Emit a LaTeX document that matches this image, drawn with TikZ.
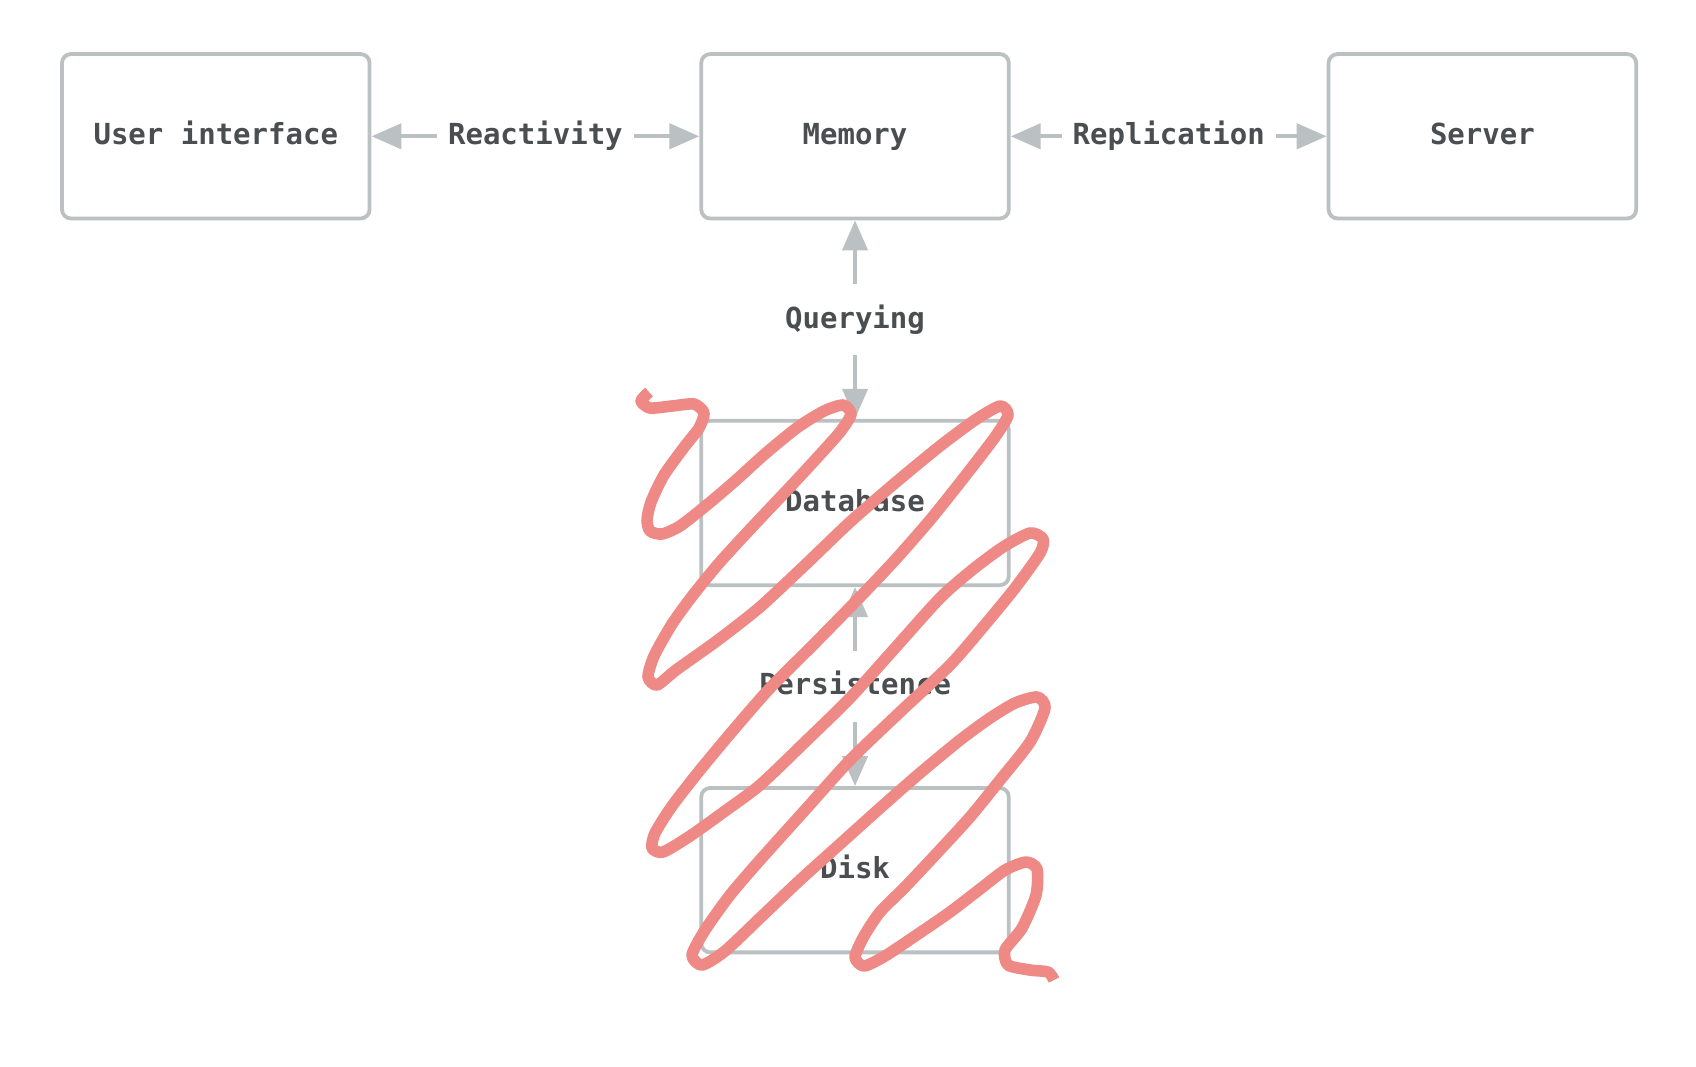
\documentclass[tikz,border=0pt]{standalone}
\usepackage{fontspec}
\newfontfamily\diagfont{DejaVu Sans Mono}
\usetikzlibrary{arrows.meta}
\definecolor{boxgray}{HTML}{BBC0C2}
\definecolor{txtgray}{HTML}{4A4E50}
\definecolor{scribred}{HTML}{EF8985}
\begin{document}
\begin{tikzpicture}[x=0.5408pt,y=-0.5408pt,
  txt/.style={text=txtgray, font=\diagfont\bfseries\fontsize{14.5pt}{17pt}\selectfont,
    text height=10.8pt, text depth=2.4pt},
  box/.style={txt, draw=boxgray, line width=1.9pt, rounded corners=4.5pt,
    minimum width=153.8pt, minimum height=82.2pt, inner sep=0pt},
  link/.style={{Triangle[length=15pt,width=12.5pt]}-{Triangle[length=15pt,width=12.5pt]},
    draw=boxgray, line width=2.2pt},
  lbl/.style={txt, fill=white, inner xsep=5.5pt, inner ysep=11pt},
  scrib/.style={draw=scribred, line width=5.8pt, line join=round, line cap=butt}
]
\useasboundingbox[fill=white] (0,0) rectangle (1568,986);

\node[box] (ui)   at (199.5,126) {User interface};
\node[box] (mem)  at (790.5,126) {Memory};
\node[box] (srv)  at (1370.5,126) {Server};
\node[box] (db)   at (790.5,465) {Database};
\node[box] (disk) at (790.5,804.5) {Disk};

\draw[link] (ui) -- node[lbl] {Reactivity} (mem);
\draw[link] (mem) -- node[lbl] {Replication} (srv);
\draw[link] (mem) -- node[lbl] {Querying} (db);
\draw[link] (db) -- node[lbl] {Persistence} (disk);

\begin{scope}[scale=0.92456]
\draw[scrib] plot[smooth, tension=0.42] coordinates {
  (649,392) (641,401) (650,408) (672,406) (694,404) (704,413) (699,428)
  (685,446) (664,475) (651,502) (647,520) (650,531)
  (662,534)
  (680,526) (708,504) (735,481) (766,453) (798,427) (824,411)
  (843,405) (851,414)
  (840,432) (815,460) (790,487) (755,524) (720,562) (693,595) (672,624) (654,656)
  (648,677) (657,685)
  (676,670) (718,640) (760,607) (805,565) (850,522) (895,483) (940,446) (975,420)
  (1000,406) (1008,415)
  (995,437) (962,480) (930,520) (895,560) (860,597) (815,643) (770,688)
  (735,728) (700,770) (672,806) (655,833)
  (652,848) (663,852)
  (690,836) (725,811) (760,785) (805,742) (850,698) (895,648) (940,598)
  (972,570) (1003,547)
  (1030,533) (1043,539) (1040,553)
  (1015,588) (983,627) (950,665) (900,712) (850,760) (805,810) (760,860)
  (730,895) (705,930)
  (692,955) (702,965)
  (725,951) (762,916) (800,880) (840,844) (880,808) (920,773) (960,740)
  (990,718) (1015,703)
  (1037,697) (1045,708)
  (1030,742) (1000,780) (970,817) (937,853) (905,887) (880,912) (864,936)
  (855,957) (864,966)
  (885,956) (918,934) (950,912) (980,889) (1005,870) (1026,862)
  (1037,869)
  (1036,895) (1022,928) (1005,950) (1008,965) (1030,970) (1048,972) (1054,980)};
\end{scope}
\end{tikzpicture}
\end{document}
